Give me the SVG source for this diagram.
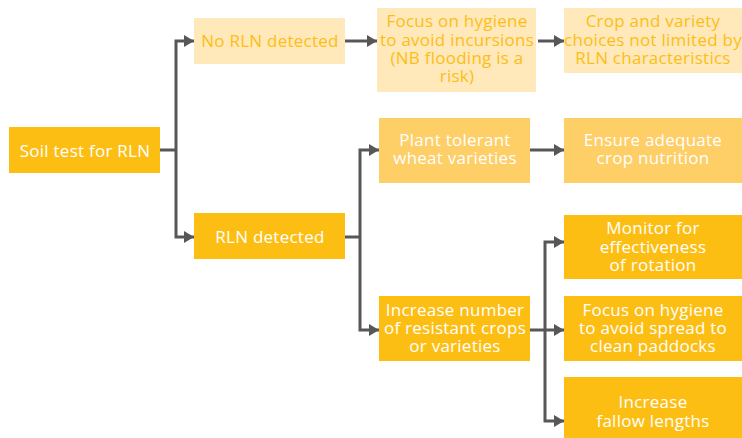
<svg xmlns="http://www.w3.org/2000/svg" width="742" height="438" viewBox="0 0 742 438">
<style>
.s{fill:#FDBE14}.m{fill:#FECE67}.l{fill:#FFE8BA}
text{font-family:"Open Sans","Liberation Sans",sans-serif;font-size:17px;letter-spacing:0.25px;text-anchor:middle}
.w{fill:#FFFFFF}.o{fill:#FDBE14}
.c{fill:none;stroke:#575757;stroke-width:3}
</style>
<defs>
<marker id="a" markerWidth="10" markerHeight="12" refX="10" refY="6" orient="auto" markerUnits="userSpaceOnUse"><path d="M0,0L10,6L0,12Z" fill="#575757"/></marker>
</defs>
<rect width="742" height="438" fill="#FFFFFF"/>
<g id="connectors">
<path class="c" d="M151,150H176"/>
<path class="c" d="M176,150V41H194" marker-end="url(#a)"/>
<path class="c" d="M176,150V237H194" marker-end="url(#a)"/>
<path class="c" d="M345,41H377" marker-end="url(#a)"/>
<path class="c" d="M538,41H564" marker-end="url(#a)"/>
<path class="c" d="M343,237H360"/>
<path class="c" d="M360,237V150H379" marker-end="url(#a)"/>
<path class="c" d="M360,237V330H379" marker-end="url(#a)"/>
<path class="c" d="M530,150H564" marker-end="url(#a)"/>
<path class="c" d="M530,330H545"/>
<path class="c" d="M545,330V242H564" marker-end="url(#a)"/>
<path class="c" d="M545,330H564" marker-end="url(#a)"/>
<path class="c" d="M545,330V421H564" marker-end="url(#a)"/>
</g>
<g id="soil"><rect class="s" x="9" y="127" width="151" height="46"/><text class="w" x="85" y="157">Soil test for RLN</text></g>
<g id="norln"><rect class="l" x="194" y="18" width="151" height="46"/><text class="o" x="270" y="47">No RLN detected</text></g>
<g id="rln"><rect class="s" x="194" y="213" width="151" height="46"/><text class="w" x="270" y="243">RLN detected</text></g>
<g id="hyg1"><rect class="l" x="377" y="8" width="159" height="84"/><text class="o" x="457" y="27">Focus on hygiene</text><text class="o" x="457" y="46">to avoid incursions</text><text class="o" x="457" y="64">(NB flooding is a</text><text class="o" x="457" y="82">risk)</text></g>
<g id="crop"><rect class="l" x="564" y="8" width="178" height="65"/><text class="o" x="653" y="27">Crop and variety</text><text class="o" x="653" y="46">choices not limited by</text><text class="o" x="653" y="64">RLN characteristics</text></g>
<g id="plant"><rect class="m" x="379" y="118" width="151" height="65"/><text class="w" x="455" y="146">Plant tolerant</text><text class="w" x="455" y="164">wheat varieties</text></g>
<g id="ensure"><rect class="m" x="564" y="118" width="178" height="65"/><text class="w" x="653" y="146">Ensure adequate</text><text class="w" x="653" y="164">crop nutrition</text></g>
<g id="increase"><rect class="s" x="379" y="296" width="151" height="65"/><text class="w" x="455" y="316">Increase number</text><text class="w" x="455" y="334">of resistant crops</text><text class="w" x="455" y="352">or varieties</text></g>
<g id="monitor"><rect class="s" x="564" y="215" width="178" height="64"/><text class="w" x="653" y="234">Monitor for</text><text class="w" x="653" y="253">effectiveness</text><text class="w" x="653" y="271">of rotation</text></g>
<g id="hyg2"><rect class="s" x="564" y="296" width="178" height="65"/><text class="w" x="653" y="316">Focus on hygiene</text><text class="w" x="653" y="334">to avoid spread to</text><text class="w" x="653" y="352">clean paddocks</text></g>
<g id="fallow"><rect class="s" x="564" y="377" width="178" height="61"/><text class="w" x="653" y="408">Increase</text><text class="w" x="653" y="427">fallow lengths</text></g>
</svg>
